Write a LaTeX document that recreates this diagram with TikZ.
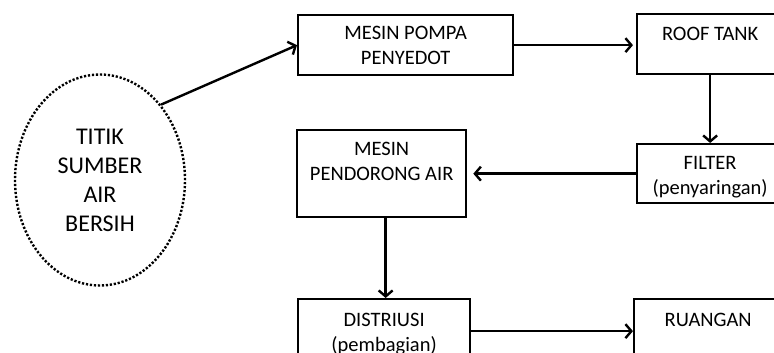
\documentclass[tikz,border=0pt]{standalone}
\usepackage{fontspec}
\setmainfont{Carlito}
\usetikzlibrary{arrows.meta,shapes.geometric}
\begin{document}
\begin{tikzpicture}[x=1pt,y=-1pt,
  box/.style={draw, line width=2.3pt, inner sep=0pt, anchor=north west},
  lbl/.style={anchor=north, inner sep=0pt, align=center, font=\fontsize{20.5}{25}\selectfont},
  arr/.style={line width=2.4pt, -{Straight Barb[length=6pt,width=14pt,line width=2.4pt]}},
  srcshape/.style={draw, ellipse, line width=2.4pt, dash pattern=on 2.2pt off 1.8pt,
    minimum width=170pt, minimum height=211pt, inner sep=0pt}
]
\useasboundingbox (0,0) rectangle (774,353);
\clip (0,0) rectangle (774,353);
% source ellipse
\node[srcshape] (src) at (100,180) {};
\node[align=center, inner sep=0pt, font=\fontsize{24}{29}\selectfont] (tsrc) at (src) {TITIK\\SUMBER\\AIR\\BERSIH};
% boxes
\node[box, minimum width=215pt, minimum height=60pt] (pompa) at (297,14) {};
\node[box, minimum width=146pt, minimum height=60pt] (roof) at (636,13) {};
\node[box, minimum width=146pt, minimum height=59pt] (filter) at (636,143) {};
\node[box, minimum width=169pt, minimum height=87pt] (pendorong) at (296,129) {};
\node[box, minimum width=172pt, minimum height=64pt] (distriusi) at (297,298) {};
\node[box, minimum width=148pt, minimum height=64pt] (ruangan) at (633,298) {};
% labels
\node[lbl] (tpompa) at ([yshift=-12pt]pompa.north) {MESIN POMPA\\PENYEDOT};
\node[lbl] (troof) at ([yshift=-14pt]roof.north) {ROOF TANK};
\node[lbl] (tfilter) at ([yshift=-13pt]filter.north) {FILTER\\(penyaringan)};
\node[lbl] (tpendorong) at ([yshift=-13pt]pendorong.north) {MESIN\\PENDORONG AIR};
\node[lbl] (tdistriusi) at ([yshift=-15pt]distriusi.north) {DISTRIUSI\\(pembagian)};
\node[lbl] (truangan) at ([yshift=-15pt]ruangan.north) {RUANGAN};
% connectors
\draw[arr] (src.51) -- (pompa.west);
\draw[arr] (pompa.east) -- ([xshift=-3pt]roof.west |- pompa.east);
\draw[arr] (roof.south) -- (filter.north);
\draw[arr] (filter.west) -- ([xshift=6pt]pendorong.east |- filter.west);
\draw[arr] ([xshift=4pt]pendorong.south) -- ([xshift=4pt]pendorong.south |- distriusi.north);
\draw[arr] (distriusi.east) -- (ruangan.west);
\end{tikzpicture}
\end{document}
